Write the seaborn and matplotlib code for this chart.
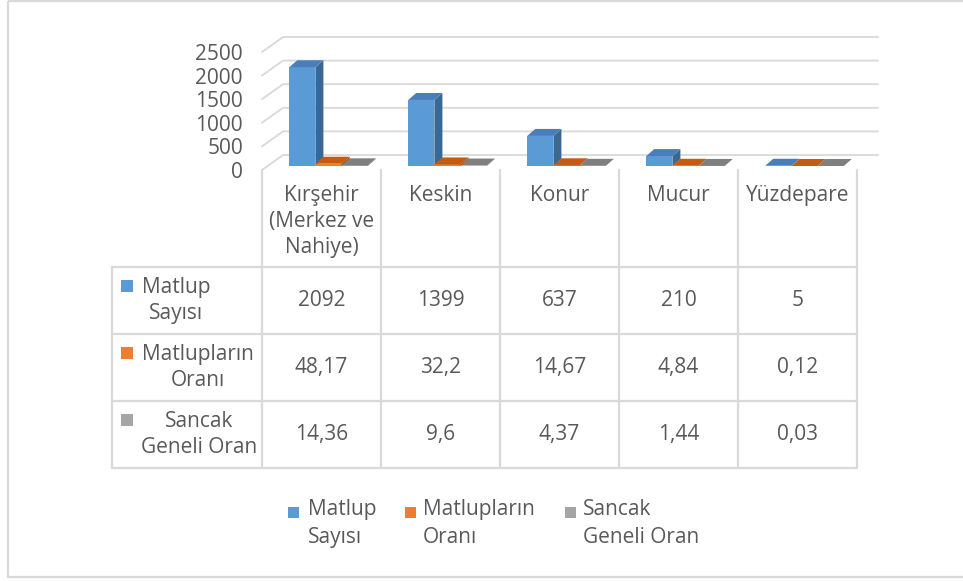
import numpy as np
import pandas as pd
import matplotlib.pyplot as plt
import seaborn as sns
from matplotlib.patches import Polygon, Rectangle
from matplotlib.transforms import ScaledTranslation, IdentityTransform


categories = ['Kırşehir\n(Merkez ve\nNahiye)', 'Keskin', 'Konur', 'Mucur', 'Yüzdepare']
series = ['Matlup Sayısı', 'Matlupların Oranı', 'Sancak Geneli Oran']
series_labels = ['Matlup\nSayısı', 'Matlupların\nOranı', 'Sancak\nGeneli Oran']
matlup_sayisi = [2092, 1399, 637, 210, 5]
matluplarin_orani = [48.17, 32.2, 14.67, 4.84, 0.12]
sancak_geneli_oran = [14.36, 9.6, 4.37, 1.44, 0.03]
y_ticks = [0, 500, 1000, 1500, 2000, 2500]

# Style
front_colors = ['#5B9BD5', '#ED7D31', '#A5A5A5']
top_colors = ['#4A7EBB', '#C55A11', '#7F7F7F']
side_colors = ['#3A6890', '#A14A0E', '#6E6E6E']
text_color = '#595959'
line_color = '#D9D9D9'
fs = 15

W, H, DPI = 963, 581, 100

sns.set_style('white')
plt.rcParams['font.family'] = ['Open Sans', 'DejaVu Sans']

df = pd.DataFrame({'kategori': categories,
                   series[0]: matlup_sayisi,
                   series[1]: matluplarin_orani,
                   series[2]: sancak_geneli_oran})
long_df = df.melt(id_vars='kategori', var_name='seri', value_name='deger')

fig = plt.figure(figsize=(W / DPI, H / DPI), dpi=DPI)

# overlay in pixel coords (origin top-left) for frame, walls and data table
ov = fig.add_axes([0, 0, 1, 1])
ov.set_xlim(0, W)
ov.set_ylim(H, 0)
ov.axis('off')

# main axes = front plane of the 3D plot
ax = fig.add_axes([262 / W, 1 - 170 / H, (857 - 262) / W, 118 / H])
ax.patch.set_alpha(0)
sns.barplot(data=long_df, x='kategori', y='deger', hue='seri',
            palette=front_colors, width=0.66, saturation=1, linewidth=0,
            errorbar=None, legend=False, ax=ax)
ax.set_xlim(-0.5, 4.5)
ax.set_ylim(0, 2500)
sns.despine(ax=ax, left=True, bottom=True)
ax.set_xlabel('')
ax.set_ylabel('')
ax.set_yticks(y_ticks)
ax.tick_params(axis='y', length=0, pad=13.7, labelsize=fs, labelcolor=text_color)
ax.tick_params(axis='x', length=0, pad=10.5, labelsize=fs, labelcolor=text_color)
for lab in ax.get_xticklabels():
    lab.set_linespacing(1.32)


def px(x, v):
    X, Y = ax.transData.transform((x, v))
    return X, H - Y


# back wall + left wall gridlines
bdx, bdy = 21, 15
for v in y_ticks:
    fx, fy = px(-0.5, v)
    rx, ry = px(4.5, v)
    ov.plot([fx, fx + bdx, rx + bdx], [fy, fy - bdy, ry - bdy],
            color=line_color, lw=1.3, solid_joinstyle='miter')

# 3D faces of the bars
bar_shift = ScaledTranslation(7 / DPI, 4 / DPI, fig.dpi_scale_trans)
dx, dy = 8, 7
n = len(categories)
for i, bar in enumerate(list(ax.patches)):
    j = i // n
    bar.set_transform(ax.transData + bar_shift)
    bar.set_zorder(3 + j)
    (x0, y0), (x1, y1) = bar.get_window_extent().get_points()
    top = Polygon([(x0, y1), (x1, y1), (x1 + dx, y1 + dy), (x0 + dx, y1 + dy)],
                  closed=True, transform=IdentityTransform(), facecolor=top_colors[j],
                  edgecolor='none', zorder=3.5 + j, clip_on=False)
    side = Polygon([(x1, y0), (x1, y1), (x1 + dx, y1 + dy), (x1 + dx, y0 + dy)],
                   closed=True, transform=IdentityTransform(), facecolor=side_colors[j],
                   edgecolor='none', zorder=3.5 + j, clip_on=False)
    ax.add_patch(side)
    ax.add_patch(top)

# data table
tbl_left = 112
row_edges = [267, 334, 401, 468]
col_edges = [px(k - 0.5, 0)[0] for k in range(len(categories) + 1)]
floor_y = px(0, 0)[1]
tlw = 1.6
for xe in col_edges:
    ov.plot([xe, xe], [floor_y, row_edges[-1]], color=line_color, lw=tlw)
ov.plot([tbl_left, tbl_left], [row_edges[0], row_edges[-1]], color=line_color, lw=tlw)
for ye in row_edges:
    ov.plot([tbl_left, col_edges[-1]], [ye, ye], color=line_color, lw=tlw)

table_rows = [matlup_sayisi, matluplarin_orani, sancak_geneli_oran]
header_cx = [176, 198, 199]
for r, vals in enumerate(table_rows):
    cy = (row_edges[r] + row_edges[r + 1]) / 2
    ov.add_patch(Rectangle((121, cy - 21), 12, 12, facecolor=front_colors[r], edgecolor='none'))
    ov.text(header_cx[r], cy, series_labels[r], ha='center', va='center',
            fontsize=fs, color=text_color, linespacing=1.32)
    for k, v in enumerate(vals):
        cx = (col_edges[k] + col_edges[k + 1]) / 2
        ov.text(cx, cy, f'{v:g}'.replace('.', ','), ha='center', va='center',
                fontsize=fs, color=text_color)

# legend
leg_sq_x = [288, 405, 565]
leg_tx_x = [308, 423, 583]
for s in range(len(series)):
    ov.add_patch(Rectangle((leg_sq_x[s], 507), 11, 11, facecolor=front_colors[s], edgecolor='none'))
    ov.text(leg_tx_x[s], 499, series_labels[s], ha='left', va='top',
            fontsize=fs, color=text_color, linespacing=1.45)

# outer frame
ov.add_patch(Rectangle((8, 1), W + 10, 576, facecolor='none', edgecolor=line_color,
                       lw=1.6, clip_on=True))

fig.savefig('out.png', dpi=DPI, facecolor='white')
